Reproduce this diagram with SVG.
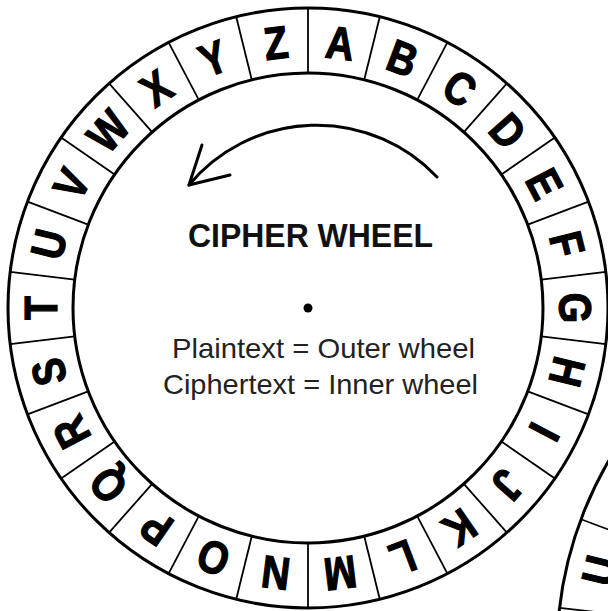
<svg xmlns="http://www.w3.org/2000/svg" width="608" height="611" viewBox="0 0 608 611">
  <style>
    .ring { fill: none; stroke: #000; stroke-width: 3; }
    .div { stroke: #000; stroke-width: 1.8; }
    .ltr { font-family: "Liberation Sans", Arial, sans-serif; font-weight: bold; font-size: 46px; fill: #000; stroke: #000; stroke-width: 1.2; text-anchor: middle; }
    .title { font-family: "Liberation Sans", Arial, sans-serif; font-weight: bold; font-size: 33px; fill: #111; text-anchor: middle; }
    .note { font-family: "Liberation Sans", Arial, sans-serif; font-size: 28px; fill: #222; text-anchor: middle; }
    .arrow { fill: none; stroke: #000; stroke-width: 3; stroke-linecap: round; stroke-linejoin: round; }
  </style>
  <rect width="608" height="611" fill="#fff"/>

  <g id="outer-wheel">
    <circle class="ring" cx="308" cy="308" r="300"/>
    <circle class="ring" cx="308" cy="308" r="235"/>
    <g id="dividers">
      <line class="div" x1="308" y1="8" x2="308" y2="73" transform="rotate(0 308 308)"/>
      <line class="div" x1="308" y1="8" x2="308" y2="73" transform="rotate(13.846 308 308)"/>
      <line class="div" x1="308" y1="8" x2="308" y2="73" transform="rotate(27.692 308 308)"/>
      <line class="div" x1="308" y1="8" x2="308" y2="73" transform="rotate(41.538 308 308)"/>
      <line class="div" x1="308" y1="8" x2="308" y2="73" transform="rotate(55.385 308 308)"/>
      <line class="div" x1="308" y1="8" x2="308" y2="73" transform="rotate(69.231 308 308)"/>
      <line class="div" x1="308" y1="8" x2="308" y2="73" transform="rotate(83.077 308 308)"/>
      <line class="div" x1="308" y1="8" x2="308" y2="73" transform="rotate(96.923 308 308)"/>
      <line class="div" x1="308" y1="8" x2="308" y2="73" transform="rotate(110.769 308 308)"/>
      <line class="div" x1="308" y1="8" x2="308" y2="73" transform="rotate(124.615 308 308)"/>
      <line class="div" x1="308" y1="8" x2="308" y2="73" transform="rotate(138.462 308 308)"/>
      <line class="div" x1="308" y1="8" x2="308" y2="73" transform="rotate(152.308 308 308)"/>
      <line class="div" x1="308" y1="8" x2="308" y2="73" transform="rotate(166.154 308 308)"/>
      <line class="div" x1="308" y1="8" x2="308" y2="73" transform="rotate(180 308 308)"/>
      <line class="div" x1="308" y1="8" x2="308" y2="73" transform="rotate(193.846 308 308)"/>
      <line class="div" x1="308" y1="8" x2="308" y2="73" transform="rotate(207.692 308 308)"/>
      <line class="div" x1="308" y1="8" x2="308" y2="73" transform="rotate(221.538 308 308)"/>
      <line class="div" x1="308" y1="8" x2="308" y2="73" transform="rotate(235.385 308 308)"/>
      <line class="div" x1="308" y1="8" x2="308" y2="73" transform="rotate(249.231 308 308)"/>
      <line class="div" x1="308" y1="8" x2="308" y2="73" transform="rotate(263.077 308 308)"/>
      <line class="div" x1="308" y1="8" x2="308" y2="73" transform="rotate(276.923 308 308)"/>
      <line class="div" x1="308" y1="8" x2="308" y2="73" transform="rotate(290.769 308 308)"/>
      <line class="div" x1="308" y1="8" x2="308" y2="73" transform="rotate(304.615 308 308)"/>
      <line class="div" x1="308" y1="8" x2="308" y2="73" transform="rotate(318.462 308 308)"/>
      <line class="div" x1="308" y1="8" x2="308" y2="73" transform="rotate(332.308 308 308)"/>
      <line class="div" x1="308" y1="8" x2="308" y2="73" transform="rotate(346.154 308 308)"/>
    </g>
    <g id="letters">
      <text class="ltr" y="16.5" transform="rotate(6.923 308 308) translate(308 40.5) scale(0.85 1)">A</text>
      <text class="ltr" y="16.5" transform="rotate(20.769 308 308) translate(308 40.5) scale(0.85 1)">B</text>
      <text class="ltr" y="16.5" transform="rotate(34.615 308 308) translate(308 40.5) scale(0.85 1)">C</text>
      <text class="ltr" y="16.5" transform="rotate(48.462 308 308) translate(308 40.5) scale(0.85 1)">D</text>
      <text class="ltr" y="16.5" transform="rotate(62.308 308 308) translate(308 40.5) scale(0.85 1)">E</text>
      <text class="ltr" y="16.5" transform="rotate(76.154 308 308) translate(308 40.5) scale(0.85 1)">F</text>
      <text class="ltr" y="16.5" transform="rotate(90 308 308) translate(308 40.5) scale(0.85 1)">G</text>
      <text class="ltr" y="16.5" transform="rotate(103.846 308 308) translate(308 40.5) scale(0.85 1)">H</text>
      <text class="ltr" y="16.5" transform="rotate(117.692 308 308) translate(308 40.5) scale(0.85 1)">I</text>
      <text class="ltr" y="16.5" transform="rotate(131.538 308 308) translate(308 40.5) scale(0.85 1)">J</text>
      <text class="ltr" y="16.5" transform="rotate(145.385 308 308) translate(308 40.5) scale(0.85 1)">K</text>
      <text class="ltr" y="16.5" transform="rotate(159.231 308 308) translate(308 40.5) scale(0.85 1)">L</text>
      <text class="ltr" y="16.5" transform="rotate(173.077 308 308) translate(308 40.5) scale(0.85 1)">M</text>
      <text class="ltr" y="16.5" transform="rotate(186.923 308 308) translate(308 40.5) scale(0.85 1)">N</text>
      <text class="ltr" y="16.5" transform="rotate(200.769 308 308) translate(308 40.5) scale(0.85 1)">O</text>
      <text class="ltr" y="16.5" transform="rotate(214.615 308 308) translate(308 40.5) scale(0.85 1)">P</text>
      <text class="ltr" y="16.5" transform="rotate(228.462 308 308) translate(308 40.5) scale(0.85 1)">Q</text>
      <text class="ltr" y="16.5" transform="rotate(242.308 308 308) translate(308 40.5) scale(0.85 1)">R</text>
      <text class="ltr" y="16.5" transform="rotate(256.154 308 308) translate(308 40.5) scale(0.85 1)">S</text>
      <text class="ltr" y="16.5" transform="rotate(270 308 308) translate(308 40.5) scale(0.85 1)">T</text>
      <text class="ltr" y="16.5" transform="rotate(283.846 308 308) translate(308 40.5) scale(0.85 1)">U</text>
      <text class="ltr" y="16.5" transform="rotate(297.692 308 308) translate(308 40.5) scale(0.85 1)">V</text>
      <text class="ltr" y="16.5" transform="rotate(311.538 308 308) translate(308 40.5) scale(0.85 1)">W</text>
      <text class="ltr" y="16.5" transform="rotate(325.385 308 308) translate(308 40.5) scale(0.85 1)">X</text>
      <text class="ltr" y="16.5" transform="rotate(339.231 308 308) translate(308 40.5) scale(0.85 1)">Y</text>
      <text class="ltr" y="16.5" transform="rotate(353.077 308 308) translate(308 40.5) scale(0.85 1)">Z</text>
    </g>
  </g>

  <g id="center">
    <path class="arrow" d="M437,177 A166,166 0 0 0 189,185"/>
    <polyline class="arrow" points="202,145 189,185 230,175"/>
    <text class="title" x="310.5" y="247" textLength="245" lengthAdjust="spacingAndGlyphs">CIPHER WHEEL</text>
    <circle cx="308" cy="308" r="4.5" fill="#000"/>
    <text class="note" x="323.5" y="358" textLength="303" lengthAdjust="spacingAndGlyphs">Plaintext = Outer wheel</text>
    <text class="note" x="320.5" y="394" textLength="315" lengthAdjust="spacingAndGlyphs">Ciphertext = Inner wheel</text>
  </g>

  <g id="second-wheel">
    <circle class="ring" cx="936" cy="652" r="379"/>
    <line class="div" x1="936" y1="273" x2="936" y2="338" transform="rotate(-69.5 936 652)"/>
    <line class="div" x1="936" y1="273" x2="936" y2="338" transform="rotate(-83.3 936 652)"/>
    <text class="ltr" y="16.5" transform="rotate(-76.4 936 652) translate(936 305.5) scale(0.85 1)">U</text>
  </g>
</svg>
